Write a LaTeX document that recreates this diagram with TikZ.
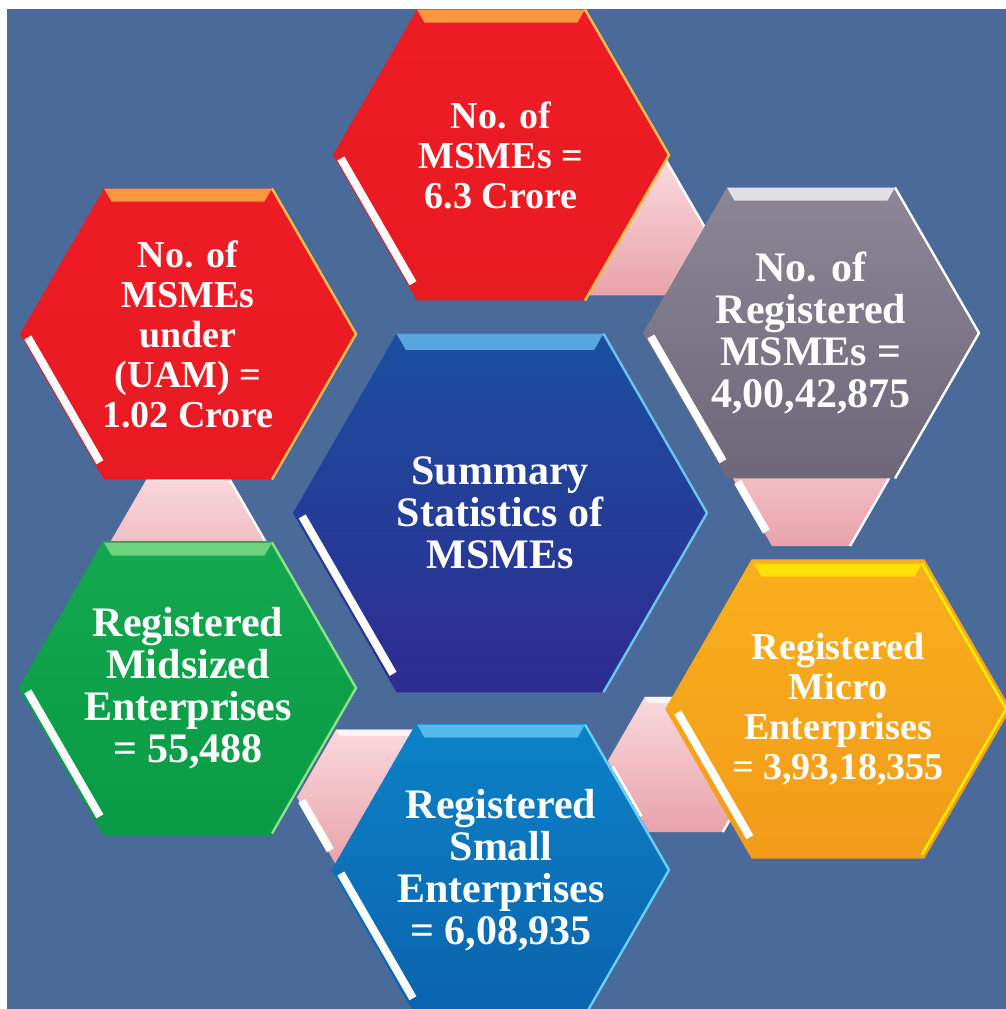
\documentclass[tikz,border=0pt]{standalone}
\usepackage{fontspec}
\setmainfont{Liberation Serif}
\usetikzlibrary{shapes.geometric, calc, backgrounds}

\definecolor{backdrop}{RGB}{74,106,154}
\definecolor{redA}{HTML}{EE1C25}
\definecolor{redB}{HTML}{E81A22}
\definecolor{redRim}{HTML}{FFBE4A}
\definecolor{greyA}{HTML}{8C8697}
\definecolor{greyB}{HTML}{6D6779}
\definecolor{hubA}{HTML}{1B4FA0}
\definecolor{hubB}{HTML}{2E2C90}
\definecolor{hubRim}{HTML}{6CC4F4}
\definecolor{greenA}{HTML}{12A84F}
\definecolor{greenB}{HTML}{0A9A45}
\definecolor{greenRim}{HTML}{8EE08E}
\definecolor{amberA}{HTML}{F9B01C}
\definecolor{amberB}{HTML}{F29B1A}
\definecolor{amberRim}{HTML}{FFF200}
\definecolor{blueA}{HTML}{0C82C8}
\definecolor{blueB}{HTML}{0B63AC}
\definecolor{blueRim}{HTML}{6CCFF6}
\definecolor{pinkA}{HTML}{F9D9DD}
\definecolor{pinkB}{HTML}{E9A2AA}

% light strip along the top, thin rim on the right, white strip lower left
\newcommand\bevel[3]{%
  \fill[#3, opacity=.75] ($(#1.center)+(120:#2)$) -- ($(#1.center)+(60:#2)$)
    -- ($(#1.center)+(60:#2*0.91)$) -- ($(#1.center)+(120:#2*0.91)$) -- cycle;
  \draw[#3, line width=1.2pt, line join=round] ($(#1.center)+(60:#2)$)
    -- ($(#1.center)+(0:#2)$) -- ($(#1.center)+(-60:#2)$);
  \draw[white, line width=4pt, shorten <=2pt, shorten >=7pt]
    ($(#1.center)+(180:#2*0.965)$) -- ($(#1.center)+(240:#2*0.965)$);
}

\begin{document}
\begin{tikzpicture}[x=0.5pt, y=0.5pt, font=\bfseries\fontsize{21}{21}\selectfont,
  hexa/.style={regular polygon, regular polygon sides=6, minimum size=168pt,
               inner sep=0pt, outer sep=0pt, align=center, text=white},
  link/.style={regular polygon, regular polygon sides=6, minimum size=78pt,
               inner sep=0pt, outer sep=0pt, top color=pinkA, bottom color=pinkB},
  tight/.style={font=\bfseries\fontsize{19}{20}\selectfont}
]
  \useasboundingbox (0,0) rectangle (1006,1009);

  % ring of figures round the hub
  \node[hexa, tight, top color=redA, bottom color=redB] (total) at (501,854)
    {No. of\\MSMEs =\\6.3 Crore};
  \node[hexa, tight, top color=redA, bottom color=redB] (uam) at (188,675)
    {No. of\\MSMEs\\under\\(UAM) =\\1.02 Crore};
  \node[hexa, top color=greyA, bottom color=greyB] (regd) at (811,676)
    {No. of\\Registered\\MSMEs =\\4,00,42,875};
  \node[hexa, minimum size=207pt, top color=hubA, bottom color=hubB] (hub) at (500,496)
    {Summary\\Statistics of\\MSMEs};
  \node[hexa, top color=greenA, bottom color=greenB] (mid) at (188,321)
    {Registered\\Midsized\\Enterprises\\= 55,488};
  \node[hexa, tight, top color=amberA, bottom color=amberB] (micro) at (838,300)
    {Registered\\Micro\\Enterprises\\= 3,93,18,355};
  \node[hexa, top color=blueA, bottom color=blueB] (small) at (501,139)
    {Registered\\Small\\Enterprises\\= 6,08,935};

  \bevel{total}{168}{redRim}
  \bevel{uam}{168}{redRim}
  \bevel{regd}{168}{white}
  \bevel{hub}{207}{hubRim}
  \bevel{mid}{168}{greenRim}
  \bevel{micro}{168}{amberRim}
  \bevel{small}{168}{blueRim}

  % backdrop and the pink links behind the ring
  \begin{scope}[on background layer]
    \fill[backdrop] (7,0) rectangle (1006,1000);
    \node[link] (l1) at ($(total.center)+(-30:145.5)$) {};
    \node[link] (l2) at ($(regd.center)+(-90:145.5)$) {};
    \node[link] (l3) at ($(small.center)+(30:211)$) {};
    \node[link] (l4) at ($(small.center)+(150:145.5)$) {};
    \node[link] (l5) at ($(mid.center)+(90:145.5)$) {};
    \foreach \l in {l1,l2,l3,l4,l5}
      \bevel{\l}{78}{white};
  \end{scope}
\end{tikzpicture}
\end{document}
